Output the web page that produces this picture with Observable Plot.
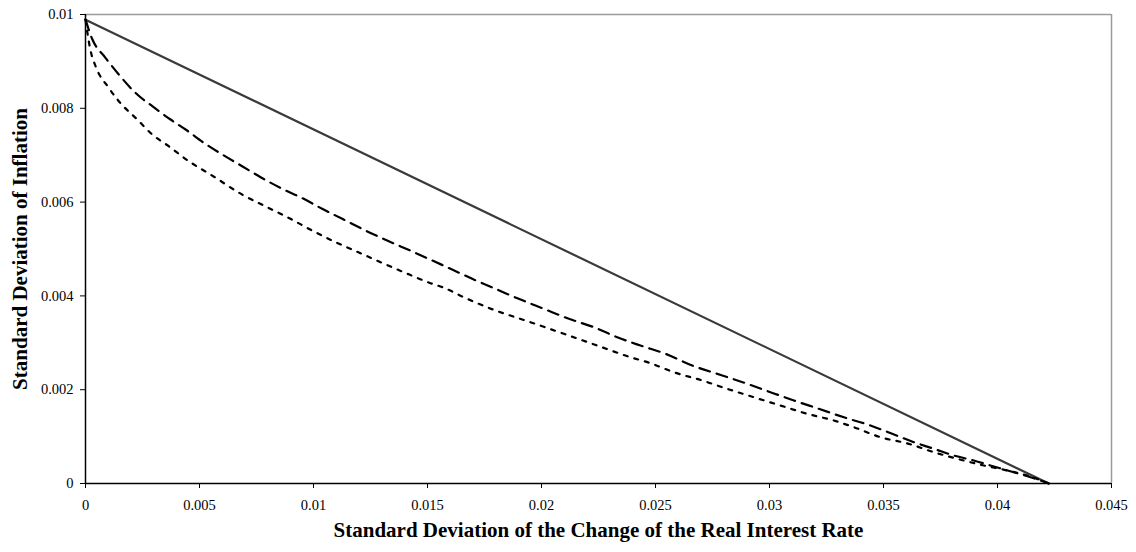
<!DOCTYPE html>
<html>
<head>
<meta charset="utf-8">
<script src="https://cdn.jsdelivr.net/npm/d3@7"></script>
<script src="https://cdn.jsdelivr.net/npm/@observablehq/plot@0.6"></script>
<style>
  html, body { margin: 0; padding: 0; background: #fff; }
  #chart svg { display: block; }
</style>
</head>
<body>
<div id="chart"></div>
<script>
const xTitle = "Standard Deviation of the Change of the Real Interest Rate";
const yTitle = "Standard Deviation of Inflation";
const xTicks = [0, 0.005, 0.01, 0.015, 0.02, 0.025, 0.03, 0.035, 0.04, 0.045];
const yTicks = [0, 0.002, 0.004, 0.006, 0.008, 0.01];

// Solid frontier (straight line)
const solidX = [0, 0.04225];
const solidY = [0.00989, 0];

// Long-dashed frontier
const dashX = [0, 0.00029, 0.000877, 0.00146, 0.00219, 0.00293, 0.00373, 0.00439, 0.00519, 0.00600, 0.00687, 0.00768, 0.00863, 0.00957, 0.01038, 0.01126, 0.01228, 0.01323, 0.01440, 0.01521, 0.01601, 0.01696, 0.01798, 0.01900, 0.02010, 0.02120, 0.02229, 0.02332, 0.02434, 0.02544, 0.02661, 0.02793, 0.02902, 0.03004, 0.03107, 0.03216, 0.03333, 0.03443, 0.03538, 0.03633, 0.03721, 0.03808, 0.03896, 0.03984, 0.04071, 0.04145, 0.04225];
const dashY = [0.00989, 0.009482, 0.009077, 0.008721, 0.008330, 0.008045, 0.007761, 0.007548, 0.007264, 0.007015, 0.006765, 0.006531, 0.006284, 0.006070, 0.005857, 0.005644, 0.005394, 0.005181, 0.004932, 0.004755, 0.004578, 0.004365, 0.004151, 0.003938, 0.003725, 0.003512, 0.003333, 0.003119, 0.002942, 0.002765, 0.002516, 0.002303, 0.002126, 0.001947, 0.001770, 0.001593, 0.001401, 0.001237, 0.001060, 0.000881, 0.000740, 0.000597, 0.000490, 0.000362, 0.000241, 0.000134, 0];

// Short-dashed frontier
const dotX = [0, 0.00022, 0.00044, 0.00102, 0.00146, 0.00227, 0.00293, 0.00365, 0.00453, 0.00548, 0.00687, 0.00797, 0.00899, 0.00994, 0.01097, 0.01206, 0.01294, 0.01396, 0.01513, 0.01572, 0.01659, 0.01798, 0.01930, 0.02098, 0.02244, 0.02390, 0.02478, 0.02580, 0.02705, 0.02800, 0.02931, 0.03048, 0.03165, 0.03282, 0.03370, 0.03487, 0.03611, 0.03721, 0.03823, 0.03940, 0.04043, 0.04130, 0.04225];
const dotY = [0.00989, 0.009232, 0.008898, 0.008437, 0.008151, 0.007761, 0.007441, 0.007192, 0.006872, 0.006589, 0.006162, 0.005891, 0.005644, 0.005394, 0.005145, 0.004911, 0.004719, 0.004505, 0.004271, 0.004173, 0.003972, 0.003689, 0.003475, 0.003192, 0.002942, 0.002693, 0.002565, 0.002373, 0.002196, 0.002041, 0.001840, 0.001663, 0.001486, 0.001343, 0.001200, 0.000987, 0.000846, 0.000667, 0.000527, 0.000384, 0.000277, 0.000171, 0];

const zip = (xs, ys) => xs.map((x, i) => ({x, y: ys[i]}));
const solid = zip(solidX, solidY);
const dashed = zip(dashX, dashY);
const dotted = zip(dotX, dotY);

const font = "'Liberation Serif', 'Times New Roman', serif";

const chart = Plot.plot({
  width: 1136,
  height: 552,
  marginLeft: 85,
  marginRight: 25,
  marginTop: 14,
  marginBottom: 69,
  style: {fontFamily: font, fontSize: "14.5px", color: "#000", background: "#fff"},
  x: {domain: [0, 0.045]},
  y: {domain: [0, 0.01]},
  marks: [
    Plot.ruleY([0.01], {stroke: "#9a9a9a", strokeWidth: 1.5}),
    Plot.ruleX([0.045], {stroke: "#9a9a9a", strokeWidth: 1.5}),
    Plot.line(solid, {x: "x", y: "y", stroke: "#3a3a3a", strokeWidth: 2.2}),
    Plot.line(dashed, {x: "x", y: "y", stroke: "#000", strokeWidth: 2.2, strokeDasharray: "11,7", curve: "monotone-x"}),
    Plot.line(dotted, {x: "x", y: "y", stroke: "#000", strokeWidth: 2.2, strokeDasharray: "4,7", curve: "monotone-x"}),
    Plot.ruleX([0], {stroke: "#000", strokeWidth: 1.5}),
    Plot.ruleY([0], {stroke: "#000", strokeWidth: 1.5}),
    Plot.axisX({ticks: xTicks, tickFormat: d => String(d), tickSize: 5, tickPadding: 11, label: null, stroke: "#000"}),
    Plot.axisY({ticks: yTicks, tickFormat: d => String(d), tickSize: 5, tickPadding: 7, label: null, stroke: "#000"}),
    Plot.text([xTitle], {frameAnchor: "bottom", dy: 47, text: d => d, fontWeight: "bold", fontSize: 21, lineAnchor: "middle", textAnchor: "middle"}),
    Plot.text([yTitle], {frameAnchor: "left", dx: -65, rotate: -90, text: d => d, fontWeight: "bold", fontSize: 21, lineAnchor: "middle", textAnchor: "middle"})
  ]
});
document.getElementById("chart").appendChild(chart);
</script>
</body>
</html>
